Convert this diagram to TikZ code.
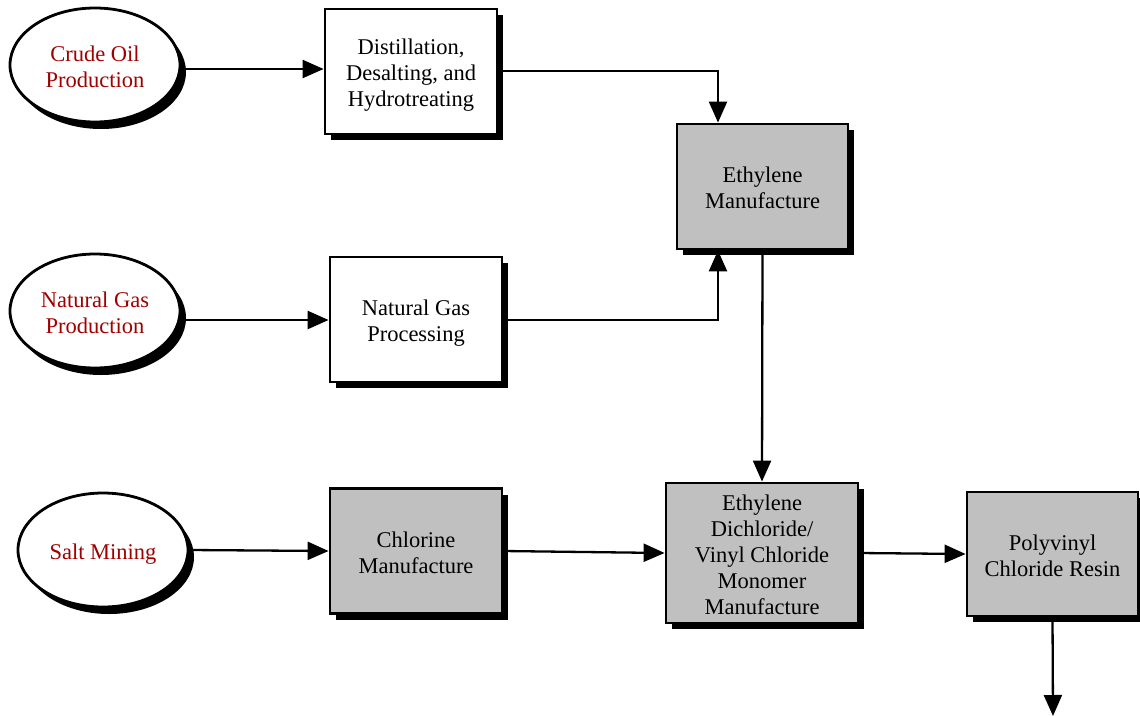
\documentclass[tikz,border=0pt]{standalone}
\usepackage{fontspec}
\setmainfont{Liberation Serif}
\usetikzlibrary{shapes.geometric,arrows.meta,shadows}
\definecolor{srcred}{HTML}{A00000}
\definecolor{procgray}{HTML}{C0C0C0}
% centred lines of a label, set slightly low in their shape
\newcommand\lns[1]{\raisebox{-4pt}[\height][\depth]{\begin{tabular}{@{}c@{}}#1\end{tabular}}}
\begin{document}
\begin{tikzpicture}[x=1pt,y=-1pt,
  txt/.style={font=\fontsize{22.5}{26}\selectfont},
  source/.style={txt, ellipse, draw, line width=2.8pt, fill=white, text=srcred,
    minimum width=170pt, minimum height=114pt, inner sep=0pt,
    drop shadow={shadow xshift=6pt, shadow yshift=-7pt, opacity=1, fill=black}},
  proc/.style={txt, rectangle, draw, line width=2.8pt, fill=white,
    minimum width=172pt, minimum height=125pt, inner sep=0pt,
    drop shadow={shadow xshift=6pt, shadow yshift=-6pt, opacity=1, fill=black}},
  gproc/.style={proc, fill=procgray},
  flow/.style={line width=2.3pt, -{Triangle[length=21pt,width=18pt]}}
]
\useasboundingbox (0,0) rectangle (1140,715);

% raw material sources
\node[source] (crude) at (95,65) {\lns{Crude Oil\\Production}};
\node[source] (gas)   at (95,311) {\lns{Natural Gas\\Production}};
\node[source] (salt)  at (103,550) {\lns{Salt Mining}};

% processing steps
\node[proc]  (dist)  at (411,71.5) {\lns{Distillation,\\Desalting, and\\Hydrotreating}};
\node[proc]  (ngp)   at (416,319.5) {\lns{Natural Gas\\Processing}};
\node[gproc] (chlor) at (416,551) {\lns{Chlorine\\Manufacture}};
\node[gproc, minimum width=171pt] (eth) at (762.5,186.5) {\lns{Ethylene\\Manufacture}};
\node[gproc, minimum width=192pt, minimum height=140pt] (edc) at (762,553) {\lns{Ethylene\\Dichloride/\\Vinyl Chloride\\Monomer\\Manufacture}};
\node[gproc, minimum width=171pt, minimum height=124pt] (pvc) at (1052.5,554) {\lns{Polyvinyl\\Chloride Resin}};

\coordinate (out) at (1053,716);

% material flows
\draw[flow] (crude.east |- 0,69) -- (dist.west |- 0,69);
\draw[flow] (dist.east |- 0,71) -| (718,0 |- eth.north);
\draw[flow] (gas.east |- 0,320) -- (ngp.west |- 0,320);
\draw[flow] (ngp.east |- 0,320) -| (718,0 |- eth.south);
\draw[flow] (eth.south) -- (edc.north);
\draw[flow] (salt.east) -- (chlor.west);
\draw[flow] (chlor.east) -- (edc.west);
\draw[flow] (edc.east) -- (pvc.west);
\draw[flow] (pvc.south) -- (out);
\end{tikzpicture}
\end{document}
